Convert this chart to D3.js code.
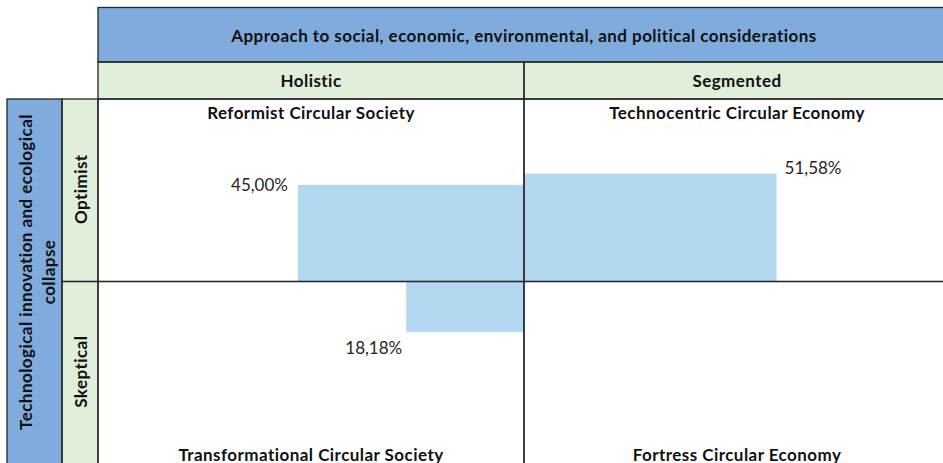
<!DOCTYPE html>
<html>
<head>
<meta charset="utf-8">
<script src="https://cdn.jsdelivr.net/npm/d3@7"></script>
<style>
  html, body { margin: 0; padding: 0; background: #fff; }
  svg { display: block; }
  text { font-family: Lato, "Open Sans", sans-serif; }
  text.bold { font-size: 17px; font-weight: 700; letter-spacing: 0.45px; fill: #111; }
  text.lbl { font-size: 17px; fill: #262626; }
</style>
</head>
<body>
<div id="chart"></div>
<script>
// ---- data ----
const headerTitle = "Approach to social, economic, environmental, and political considerations";
const sideTitle = ["Technological innovation and ecological", "collapse"];
const approaches = ["Holistic", "Segmented"];
const outlooks = ["Optimist", "Skeptical"];
const quadrantNames = ["Reformist Circular Society", "Technocentric Circular Economy",
                       "Transformational Circular Society", "Fortress Circular Economy"];
const quadrantApproach = ["Holistic", "Segmented", "Holistic", "Segmented"];
const quadrantOutlook = ["Optimist", "Optimist", "Skeptical", "Skeptical"];
const shares = [45.00, 51.58, 18.18, null];

// ---- layout ----
const W = 943, H = 463;
const blue = "#80ACDD", green = "#DFEFDA", barFill = "#B4D8EF", line = "#262626";

const svg = d3.select("#chart").append("svg").attr("width", W).attr("height", H);

const x = d3.scaleBand().domain(approaches).range([98, 950]);
const y = d3.scaleBand().domain(outlooks).range([99, 464]);
const xMid = x("Segmented");          // shared vertical edge
const yMid = y("Skeptical");          // shared horizontal edge

// bar size scales (bars grow outward from the centre of the matrix)
const wScale = d3.scaleLinear().domain([-11, 100]).range([0, 448]);
const hScale = d3.scaleLinear().domain([-11, 100]).range([0, 191.6]);

const quads = quadrantNames.map((name, i) => ({
  name, a: quadrantApproach[i], o: quadrantOutlook[i], v: shares[i]
}));

// fills
svg.append("rect").attr("x", 98).attr("y", 7.5).attr("width", 852).attr("height", 54.5).attr("fill", blue);
svg.selectAll("rect.col").data(approaches).join("rect")
  .attr("x", d => x(d)).attr("y", 62).attr("width", x.bandwidth()).attr("height", 37).attr("fill", green);
svg.append("rect").attr("x", 7).attr("y", 99).attr("width", 55).attr("height", 380).attr("fill", blue);
svg.selectAll("rect.row").data(outlooks).join("rect")
  .attr("x", 62).attr("y", d => y(d)).attr("width", 36).attr("height", y.bandwidth()).attr("fill", green);

// bars
const bq = quads.filter(d => d.v != null);
const isLeft = d => d.a === approaches[0];
const isTop = d => d.o === outlooks[0];
const bx = d => isLeft(d) ? xMid - wScale(d.v) : xMid;
const by = d => isTop(d) ? yMid - hScale(d.v) : yMid;
svg.selectAll("rect.bar").data(bq).join("rect").attr("class", "bar")
  .attr("x", bx).attr("y", by)
  .attr("width", d => wScale(d.v)).attr("height", d => hScale(d.v))
  .attr("fill", barFill);

// borders
const g = svg.append("g").attr("fill", "none").attr("stroke", line).attr("stroke-width", 1.3);
g.append("rect").attr("x", 98).attr("y", 7.5).attr("width", 852).attr("height", 54.5);
g.selectAll("rect.col").data(approaches).join("rect")
  .attr("x", d => x(d)).attr("y", 62).attr("width", x.bandwidth()).attr("height", 37);
g.append("rect").attr("x", 7).attr("y", 99).attr("width", 55).attr("height", 380);
g.selectAll("rect.row").data(outlooks).join("rect")
  .attr("x", 62).attr("y", d => y(d)).attr("width", 36).attr("height", y.bandwidth());
g.selectAll("rect.cell").data(quads).join("rect")
  .attr("x", d => x(d.a)).attr("y", d => y(d.o)).attr("width", x.bandwidth()).attr("height", y.bandwidth());

// header texts
svg.append("text").attr("class", "bold").attr("x", (98 + 950) / 2).attr("y", 42).attr("text-anchor", "middle")
  .text(headerTitle);
svg.selectAll("text.col").data(approaches).join("text").attr("class", "bold")
  .attr("x", d => x(d) + x.bandwidth() / 2).attr("y", 87).attr("text-anchor", "middle")
  .text(d => d);
svg.selectAll("text.row").data(outlooks).join("text").attr("class", "bold")
  .attr("transform", d => `translate(87,${y(d) + y.bandwidth() / 2 - 1}) rotate(-90)`)
  .attr("text-anchor", "middle")
  .text(d => d);
svg.selectAll("text.side").data(sideTitle).join("text").attr("class", "bold")
  .attr("transform", (d, i) => `translate(${32 + i * 23},272) rotate(-90)`)
  .attr("text-anchor", "middle")
  .text(d => d);

// quadrant titles
svg.selectAll("text.q").data(quads).join("text").attr("class", "bold")
  .attr("x", d => x(d.a) + x.bandwidth() / 2)
  .attr("y", d => isTop(d) ? y(d.o) + 20 : y(d.o) + y.bandwidth() - 3.5)
  .attr("text-anchor", "middle")
  .text(d => d.name);

// value labels
const fmt = v => v.toFixed(2).replace(".", ",") + "%";
svg.selectAll("text.lbl").data(bq).join("text").attr("class", "lbl")
  .attr("x", d => isLeft(d) ? bx(d) - (isTop(d) ? 10 : 4) : bx(d) + wScale(d.v) + 8)
  .attr("y", d => isTop(d) ? by(d) + (isLeft(d) ? 6 : 1) : by(d) + hScale(d.v) + 22)
  .attr("text-anchor", d => isLeft(d) ? "end" : "start")
  .text(d => fmt(d.v));
</script>
</body>
</html>
